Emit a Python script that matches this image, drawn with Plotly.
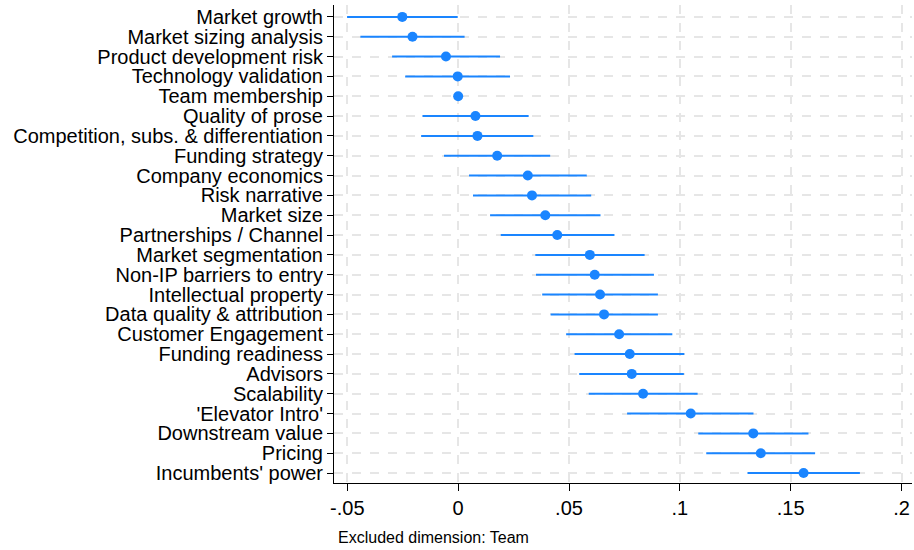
import plotly.graph_objects as go

# Dimensions, top to bottom
dimensions = [
    "Market growth", "Market sizing analysis", "Product development risk",
    "Technology validation", "Team membership", "Quality of prose",
    "Competition, subs. & differentiation", "Funding strategy",
    "Company economics", "Risk narrative", "Market size",
    "Partnerships / Channel", "Market segmentation", "Non-IP barriers to entry",
    "Intellectual property", "Data quality & attribution", "Customer Engagement",
    "Funding readiness", "Advisors", "Scalability", "'Elevator Intro'",
    "Downstream value", "Pricing", "Incumbents' power",
]

# Point estimates and confidence bounds
estimate = [
    -0.0252, -0.0206, -0.0055, -0.0002, 0.0, 0.0078, 0.0087, 0.0176,
    0.0314, 0.0333, 0.0393, 0.0447, 0.0594, 0.0616, 0.0640, 0.0658,
    0.0726, 0.0774, 0.0783, 0.0834, 0.1049, 0.1331, 0.1365, 0.1558,
]
ci_low = [
    -0.0501, -0.0441, -0.0298, -0.0239, 0.0, -0.0161, -0.0167, -0.0064,
    0.0049, 0.0067, 0.0144, 0.0192, 0.0348, 0.0351, 0.0379, 0.0417,
    0.0487, 0.0525, 0.0546, 0.0589, 0.0762, 0.1083, 0.1119, 0.1305,
]
ci_high = [
    -0.0002, 0.0029, 0.0189, 0.0234, 0.0, 0.0318, 0.0339, 0.0415,
    0.0580, 0.0600, 0.0642, 0.0705, 0.0841, 0.0883, 0.0901, 0.0901,
    0.0966, 0.1020, 0.1018, 0.1080, 0.1332, 0.1580, 0.1610, 0.1812,
]

x_ticks = [-0.05, 0, 0.05, 0.1, 0.15, 0.2]
x_tick_labels = ["-.05", "0", ".05", ".1", ".15", ".2"]

blue = "#1a85ff"

fig = go.Figure(
    go.Scatter(
        x=estimate,
        y=dimensions,
        mode="markers",
        marker=dict(color=blue, size=10),
        error_x=dict(
            type="data",
            symmetric=False,
            array=[h - e for h, e in zip(ci_high, estimate)],
            arrayminus=[e - l for e, l in zip(estimate, ci_low)],
            color=blue,
            thickness=2,
            width=0,
        ),
        showlegend=False,
    )
)

fig.update_layout(
    width=914,
    height=550,
    margin=dict(l=334, r=2, t=5, b=67),
    paper_bgcolor="white",
    plot_bgcolor="white",
    font=dict(family="Liberation Sans, Arial, sans-serif", size=20, color="black"),
)

fig.update_xaxes(
    range=[-0.056, 0.2047],
    tickvals=x_ticks,
    ticktext=x_tick_labels,
    showline=True,
    linecolor="black",
    linewidth=1,
    ticks="outside",
    ticklen=7,
    tickcolor="black",
    showgrid=True,
    gridcolor="#e6e6e6",
    gridwidth=1.5,
    griddash="dash",
    zeroline=False,
)

fig.update_yaxes(
    type="category",
    tickmode="array",
    tickvals=dimensions,
    ticktext=dimensions,
    range=[23.5, -0.6],
    showline=True,
    linecolor="black",
    linewidth=1,
    ticks="outside",
    ticklen=6,
    tickcolor="black",
    showgrid=True,
    gridcolor="#e6e6e6",
    gridwidth=1.5,
    griddash="dash",
)

fig.add_annotation(
    text="Excluded dimension: Team",
    xref="paper", yref="paper",
    x=0, y=0,
    xanchor="left", yanchor="middle",
    xshift=2, yshift=-54,
    showarrow=False,
    font=dict(size=16, color="black"),
)

fig.write_html("out.html")
